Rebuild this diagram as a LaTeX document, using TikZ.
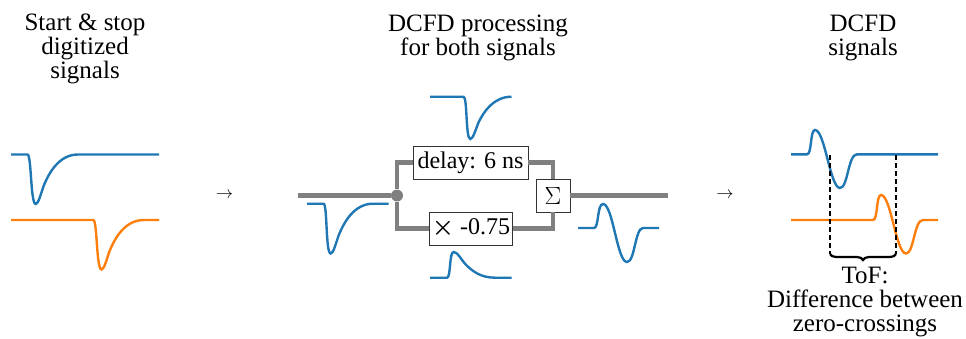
\documentclass[tikz,border=0pt]{standalone}
\usepackage{fontspec}
\setmainfont{Liberation Serif}
\usetikzlibrary{decorations.pathreplacing}
\definecolor{sigblue}{HTML}{1F77B4}
\definecolor{sigorange}{HTML}{FF7F0E}
\definecolor{wiregray}{HTML}{808080}

\begin{document}
\begin{tikzpicture}[x=1pt,y=-1pt,
                    title node/.style={align=center,font=\fontsize{25}{24}\selectfont},
                    arrow node/.style={font=\fontsize{19}{19}\selectfont},
                    box node/.style={draw=black!80,fill=white,line width=0.8pt,inner sep=0pt,
                                     font=\fontsize{24}{24}\selectfont},
                    wire/.style={draw=wiregray,line width=4.5pt},
                    blue signal/.style={draw=sigblue,line width=2.4pt},
                    orange signal/.style={draw=sigorange,line width=2.4pt},
                    crossing/.style={draw=black,line width=1.2pt,dash pattern=on 4.5pt off 3.5pt}]
  \useasboundingbox (0,0) rectangle (966,338);
  % headings
  \node[title node] (start title) at (85,49) {Start \& stop\\digitized\\signals};
  \node[title node] (dcfd title) at (478,38) {DCFD processing\\for both signals};
  \node[title node] (out title) at (863,38) {DCFD\\signals};
  \node[arrow node] (arrow 1) at (224.5,195) {$\rightarrow$};
  \node[arrow node] (arrow 2) at (725,195) {$\rightarrow$};

  % processing block
  \coordinate (in) at (298,195.5);
  \coordinate (out) at (667.5,195.5);
  \node[circle,fill=wiregray,inner sep=0pt,minimum size=12pt] (split) at (397,195.5) {};
  \node[box node,minimum width=115pt,minimum height=33pt] (delay) at (470.5,162.5) {delay: 6 ns};
  \node[box node,minimum width=83pt,minimum height=33pt] (scale) at (471,228.5) {{\boldmath$\times$} -0.75};
  \node[box node,minimum width=34pt,minimum height=33pt,font=\fontsize{27}{27}\selectfont] (sum) at (553,195.5) {$\Sigma$};
  \draw[wire] (in) -- (split);
  \draw[wire] (sum) -- (out);
  \draw[wire] (split) |- (delay);
  \draw[wire] (split) |- (scale);
  \draw[wire] (delay) -| (sum);
  \draw[wire] (scale) -| (sum);

  % input signals, left
  \draw[blue signal] (11,154.5) -- (27.5,154.5) .. controls (31.5,154.5) and (30.5,204) .. (35.7,204)
     .. controls (38.5,204) and (41,193) .. (44,185) .. controls (49,173) and (59,154.5) .. (78,154.5) -- (159,154.5);
  \draw[orange signal] (11,220) -- (93.3,220) .. controls (97.3,220) and (96.3,269.5) .. (101.5,269.5)
     .. controls (104.3,269.5) and (106.8,258.5) .. (109.8,250.5) .. controls (114.8,238.5) and (124.8,220) .. (143.8,220) -- (159,220);

  % signals round the block
  \draw[blue signal] (307,203.7) -- (323.5,203.7) .. controls (327.5,203.7) and (325.5,253.5) .. (330.7,253.5)
     .. controls (333.5,253.5) and (336,242.5) .. (339,234.5) .. controls (344,222.5) and (354,203.7) .. (373,203.7) -- (388.5,203.7);
  \draw[blue signal] (430,96.7) -- (463.5,96.7) .. controls (467.5,96.7) and (465.5,139) .. (470.3,139)
     .. controls (473,139) and (475.5,130) .. (478.5,122.5) .. controls (483.5,112) and (493.5,96.7) .. (511.5,96.7);
  \draw[blue signal] (430,277.7) -- (447,277.7) .. controls (451,277.7) and (449,252) .. (453.7,252)
     .. controls (458,252) and (461,260) .. (466.7,265.5) .. controls (472,270.5) and (480,277.7) .. (495,277.7) -- (511.5,277.7);
  \draw[blue signal] (578,228) -- (594,228) .. controls (599,228) and (597,204) .. (603,204)
     .. controls (613,204) and (617,262) .. (627,262)
     .. controls (635,262) and (635,228) .. (643,228) -- (659,228);

  % DCFD signals, right
  \draw[blue signal] (791,154.3) -- (807,154.3) .. controls (812,154.3) and (810,130) .. (815,130)
     .. controls (825,130) and (830,188) .. (840,188)
     .. controls (848,188) and (848,154.3) .. (857,154.3) -- (938,154.3);
  \draw[orange signal] (791,220) -- (873,220) .. controls (878,220) and (876,195) .. (881,195)
     .. controls (891,195) and (896,253.5) .. (906,253.5)
     .. controls (914,253.5) and (914,220) .. (923,220) -- (938,220);

  % zero-crossings and ToF
  \coordinate (cross 1) at (830,155);
  \coordinate (cross 2) at (896,155);
  \coordinate (end 1) at (830,254);
  \coordinate (end 2) at (896,254);
  \draw[crossing] (cross 1) -- (end 1);
  \draw[crossing] (cross 2) -- (end 2);
  \draw[decorate,decoration={brace,amplitude=6pt},line width=2.2pt] (end 2) -- (end 1);
  \node[title node,anchor=north] (tof) at (865,264) {ToF:\\Difference between\\zero-crossings};
\end{tikzpicture}
\end{document}
